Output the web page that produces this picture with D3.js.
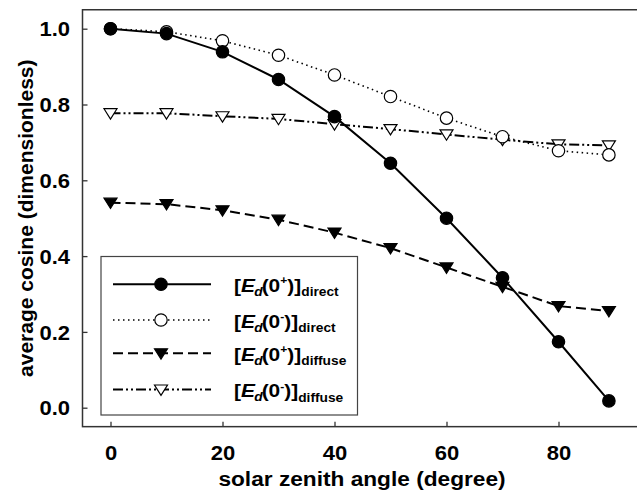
<!DOCTYPE html>
<html><head><meta charset="utf-8">
<script src="https://cdn.jsdelivr.net/npm/d3@7"></script>
<style>
html,body{margin:0;padding:0;background:#fff;}
text{font-family:Arial,"Liberation Sans",Helvetica,sans-serif;font-weight:bold;fill:#000;}
</style></head>
<body>
<svg id="c" width="637" height="491"></svg>
<script>
const angles = [0,10,20,30,40,50,60,70,80,89];
const directAbove = [1.000,0.987,0.939,0.866,0.768,0.645,0.500,0.343,0.174,0.018];
const directBelow = [1.000,0.992,0.968,0.930,0.878,0.821,0.764,0.715,0.678,0.667];
const diffuseAbove = [0.541,0.537,0.521,0.496,0.462,0.421,0.370,0.319,0.268,0.255];
const diffuseBelow = [0.777,0.777,0.769,0.762,0.748,0.735,0.721,0.707,0.695,0.692];
const xTicks = [0,20,40,60,80];
const yTicks = [0.0,0.2,0.4,0.6,0.8,1.0];
const seriesNames = ["direct","direct","diffuse","diffuse"];
const seriesSigns = ["+","-","+","-"];

const SX = 1.1; // horizontal stretch of the reference's lettering
const svg = d3.select("#c");
const L=82.5, T=9.75, B=426.65, R=670.5;
const x = d3.scaleLinear().domain([-5,100]).range([L,R]);
const y = d3.scaleLinear().domain([-0.05,1.05]).range([B,T]);

// frame
svg.append("rect").attr("x",L).attr("y",T).attr("width",R-L).attr("height",B-T)
  .attr("fill","none").attr("stroke","#333").attr("stroke-width",1.5);

// axes (inward ticks)
const xAxis = d3.axisTop(x).tickValues(xTicks).tickSize(5).tickFormat(d3.format("d"));
const gx = svg.append("g").attr("transform",`translate(0,${B})`).call(xAxis);
gx.select(".domain").remove();
gx.selectAll("line").attr("stroke","#333").attr("stroke-width",1.3);
gx.selectAll("text").attr("x",0).attr("y",0).attr("dy",0).attr("font-size",20)
  .attr("transform",`translate(0,33.5) scale(${SX},1)`);

const yAxis = d3.axisRight(y).tickValues(yTicks).tickSize(5).tickFormat(d3.format(".1f"));
const gy = svg.append("g").attr("transform",`translate(${L},0)`).call(yAxis);
gy.select(".domain").remove();
gy.selectAll("line").attr("stroke","#333").attr("stroke-width",1.3);
gy.selectAll("text").attr("x",0).attr("dy","0.36em").attr("text-anchor","end").attr("font-size",20)
  .attr("transform",`translate(-12.5,0) scale(${SX},1)`);

// axis titles
svg.append("text").attr("transform",`translate(362,486) scale(${SX - 0.02},1)`).attr("text-anchor","middle")
  .attr("font-size",21).text("solar zenith angle (degree)");
svg.append("text").attr("transform",`translate(33,${(T+B)/2}) rotate(-90)`).attr("text-anchor","middle")
  .attr("font-size",21).text("average cosine (dimensionless)");

const styles = [
  {vals:directAbove, dash:null, w:2, marker:"circle", fill:"#000"},
  {vals:directBelow, dash:"1.5,3.5", w:1.6, marker:"circle", fill:"#fff"},
  {vals:diffuseAbove, dash:"10,5", w:2, marker:"tri", fill:"#000"},
  {vals:diffuseBelow, dash:"10,3,2,3,2,3", w:2, marker:"tri", fill:"#fff"}
];

const triPath = "M-6.5,-4.5L6.5,-4.5L0,5.8Z";
function drawMarker(g, type, fill, cx, cy){
  if(type==="circle"){
    g.append("circle").attr("cx",cx).attr("cy",cy).attr("r",6.2)
      .attr("fill",fill).attr("stroke","#000").attr("stroke-width",1.2);
  } else {
    g.append("path").attr("d",triPath).attr("transform",`translate(${cx},${cy})`)
      .attr("fill",fill).attr("stroke","#000").attr("stroke-width",1.2);
  }
}

const line = d3.line().x((d,i)=>x(angles[i])).y(d=>y(d));

const order = [3,2,1,0];
order.forEach(si=>{
  const s = styles[si];
  const g = svg.append("g");
  g.append("path").datum(s.vals).attr("d",line).attr("fill","none")
    .attr("stroke","#000").attr("stroke-width",s.w)
    .attr("stroke-dasharray",s.dash);
  s.vals.forEach((v,i)=>drawMarker(g,s.marker,s.fill,x(angles[i]),y(v)));
});

// legend
const lg = svg.append("g");
lg.append("rect").attr("x",101).attr("y",256.5).attr("width",256.5).attr("height",158.5)
  .attr("fill","#fff").attr("stroke","#444").attr("stroke-width",1.2);
const ly = [284.3,320,353.3,389.5];
styles.forEach((s,i)=>{
  lg.append("line").attr("x1",113).attr("x2",211).attr("y1",ly[i]).attr("y2",ly[i])
    .attr("stroke","#000").attr("stroke-width",s.w).attr("stroke-dasharray",s.dash);
  drawMarker(lg,s.marker,s.fill,161,ly[i]);
  const t = lg.append("text").attr("transform",`translate(234,${ly[i]+7.5}) scale(${SX},1)`).attr("font-size",19);
  t.append("tspan").text("[");
  t.append("tspan").attr("font-style","italic").text("E");
  t.append("tspan").attr("font-style","italic").attr("font-size",12.5).attr("dy",4).attr("dx",-0.5).text("d");
  t.append("tspan").attr("dy",-4).attr("dx",-1).text("(0");
  t.append("tspan").attr("font-size",11).attr("dy",-7.5).text(seriesSigns[i]==="+"?"+":"-");
  t.append("tspan").attr("dy",7.5).text(")]");
  t.append("tspan").attr("font-size",12.5).attr("dy",4.5).text(seriesNames[i]);
});
</script>
</body></html>
